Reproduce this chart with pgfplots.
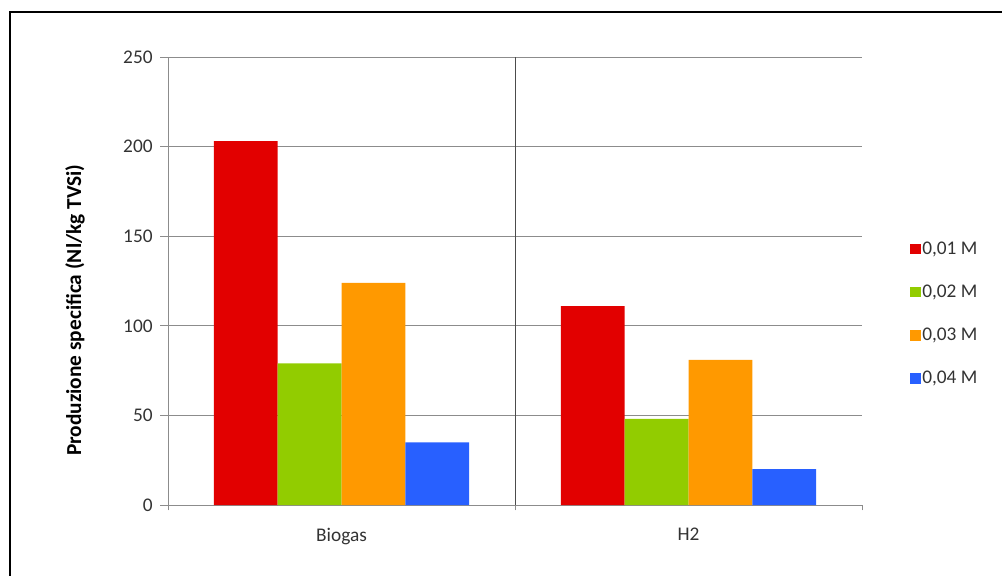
\documentclass[border=0pt]{standalone}
\usepackage{fontspec}
\setmainfont{Carlito}
\usepackage{pgfplots}
\pgfplotsset{compat=1.18}

\definecolor{cRed}{RGB}{226,0,0}
\definecolor{cGreen}{RGB}{146,204,0}
\definecolor{cOrange}{RGB}{255,153,0}
\definecolor{cBlue}{RGB}{40,96,255}
\definecolor{gridgray}{RGB}{140,140,140}

\begin{document}
\begin{tikzpicture}
% 1 px of the reference = 0.75pt
\useasboundingbox (0,0) rectangle (751.5pt,-431.25pt);
\draw[line width=2.2pt] (7.5pt,-432pt) -- (7.5pt,-9pt) -- (752pt,-9pt);
\begin{axis}[
    at={(126pt,-378.75pt)}, anchor=south west,
    scale only axis, width=520.5pt, height=336pt,
    font=\fontsize{14.5}{16}\selectfont,
    /pgf/number format/assume math mode=true,
    ybar=0pt, bar width=0.184,
    xmin=-0.5, xmax=1.5, ymin=0, ymax=250,
    ytick={0,50,...,250},
    xtick={0,1}, xticklabels={Biogas,H2},
    major x tick style={draw=none},
    minor xtick={-0.5,0.5,1.5},
    extra x ticks={0.5}, extra x tick labels={},
    extra x tick style={grid=major, major grid style={draw=black!70, line width=0.75pt}, major x tick style={draw=none}},
    tick align=outside,
    major tick length=6pt, minor tick length=4pt,
    tick style={draw=gridgray, line width=0.75pt},
    axis x line*=bottom, axis y line*=left,
    axis line style={draw=gridgray, line width=0.75pt},
    ymajorgrids, major grid style={draw=gridgray, line width=0.75pt},
    tick label style={text=black!80},
    yticklabel style={xshift=-2pt},
    xticklabel style={yshift=-8pt},
    ylabel={\fontsize{16}{18}\selectfont\bfseries Produzione specifica (Nl/kg TVSi)},
    ylabel style={at={(ticklabel cs:0.435)}, text=black, yshift=22pt},
    legend style={at={(rel axis cs:1,0.5915)}, anchor=north west, xshift=36pt,
        draw=none, fill=none, inner sep=0pt, row sep=19.5pt,
        nodes={inner sep=1pt, text=black!80}},
    legend cell align=left,
    legend image code/.code={\fill[#1, draw=none] (0pt,-4pt) rectangle (8pt,4pt);},
]
\addplot[fill=cRed, draw=none] coordinates {(0,203) (1,111)};
\addplot[fill=cGreen, draw=none] coordinates {(0,79) (1,48)};
\addplot[fill=cOrange, draw=none] coordinates {(0,124) (1,81)};
\addplot[fill=cBlue, draw=none] coordinates {(0,35) (1,20)};
\legend{{0,01 M}, {0,02 M}, {0,03 M}, {0,04 M}}
\end{axis}
\end{tikzpicture}
\end{document}
